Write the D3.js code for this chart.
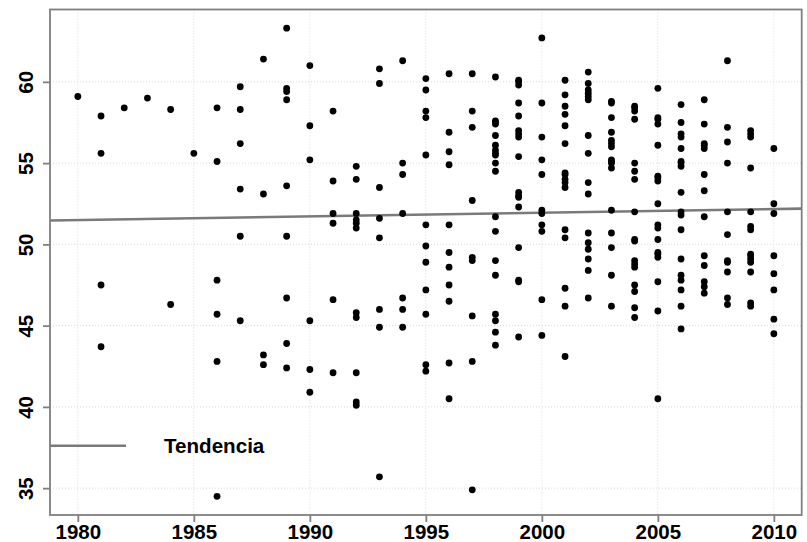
<!DOCTYPE html>
<html lang="es">
<head>
    <meta charset="UTF-8">
    <title>Tendencia</title>
    <script src="https://cdnjs.cloudflare.com/ajax/libs/d3/7.8.5/d3.min.js"></script>
    <style>
        body {
            margin: 0;
            padding: 0;
            background-color: #fff;
        }
        svg text {
            font-family: "Liberation Sans", Arial, sans-serif;
            font-weight: bold;
            fill: #000;
        }
        .grid line {
            stroke: #d9d9d9;
            stroke-width: 1px;
            stroke-dasharray: 1,2;
        }
    </style>
</head>
<body>
    <div id="chart"></div>
    <script>
        // one entry per year
        const years = [1980, 1981, 1982, 1983, 1984, 1985, 1986, 1987, 1988, 1989,
                       1990, 1991, 1992, 1993, 1994, 1995, 1996, 1997, 1998, 1999,
                       2000, 2001, 2002, 2003, 2004, 2005, 2006, 2007, 2008, 2009, 2010];
        const values = [
            [59.1],
            [57.9, 55.6, 47.5, 43.7],
            [58.4],
            [59.0],
            [58.3, 46.3],
            [55.6],
            [58.4, 55.1, 47.8, 45.7, 42.8, 34.5],
            [59.7, 58.3, 56.2, 53.4, 50.5, 45.3],
            [61.4, 53.1, 43.2, 42.6],
            [63.3, 59.6, 59.4, 58.9, 53.6, 50.5, 46.7, 43.9, 42.4],
            [61.0, 57.3, 55.2, 45.3, 42.3, 40.9],
            [58.2, 53.9, 51.9, 51.3, 46.6, 42.1],
            [54.8, 54.0, 51.9, 51.5, 51.3, 51.0, 45.8, 45.5, 42.1, 40.3, 40.1],
            [60.8, 59.9, 53.5, 51.6, 50.4, 46.0, 44.9, 35.7],
            [61.3, 55.0, 54.3, 51.9, 46.7, 46.0, 44.9],
            [60.2, 59.5, 58.2, 57.8, 55.5, 51.2, 49.9, 48.9, 47.2, 45.7, 42.6, 42.2],
            [60.5, 56.9, 55.7, 54.9, 51.2, 49.5, 48.6, 47.5, 46.5, 42.7, 40.5],
            [60.5, 58.2, 57.2, 52.7, 49.2, 49.0, 45.6, 42.8, 34.9],
            [60.3, 57.6, 57.5, 57.4, 56.7, 56.1, 55.8, 55.6, 55.5, 55.0, 54.5, 51.7, 50.8, 49.0, 48.1, 45.7, 45.3, 44.6, 43.8],
            [60.1, 60.0, 59.8, 58.7, 57.9, 57.0, 56.8, 56.6, 55.4, 53.2, 53.0, 52.9, 52.3, 49.8, 47.8, 47.7, 44.3],
            [62.7, 58.7, 56.6, 55.2, 54.3, 52.1, 51.9, 51.2, 50.8, 46.6, 44.4],
            [60.1, 59.2, 58.5, 58.0, 57.3, 56.2, 54.4, 54.3, 54.0, 53.8, 53.5, 50.9, 50.4, 47.3, 46.2, 43.1],
            [60.6, 59.9, 59.5, 59.3, 59.1, 58.9, 56.7, 55.6, 53.8, 53.1, 50.7, 50.1, 49.7, 49.1, 48.4, 46.7],
            [58.8, 58.7, 57.8, 56.9, 56.4, 56.2, 56.0, 55.2, 55.1, 55.0, 54.7, 52.1, 50.7, 49.8, 48.1, 46.2],
            [58.5, 58.4, 58.2, 57.7, 55.0, 54.5, 54.0, 52.0, 50.3, 50.2, 49.0, 48.8, 48.6, 47.5, 47.1, 46.1, 45.5],
            [59.6, 57.8, 57.7, 57.4, 56.1, 54.2, 54.1, 53.9, 52.5, 51.2, 51.0, 50.3, 49.5, 49.4, 49.2, 47.7, 45.9, 40.5],
            [58.6, 57.5, 56.8, 56.6, 55.9, 55.1, 55.0, 54.8, 53.2, 52.0, 51.8, 50.9, 49.1, 48.1, 47.8, 47.2, 46.2, 44.8],
            [58.9, 57.4, 56.2, 56.1, 55.9, 54.3, 53.3, 51.7, 49.3, 48.7, 47.7, 47.4, 47.0],
            [61.3, 57.2, 56.3, 55.0, 52.0, 50.6, 49.0, 48.9, 48.3, 46.7, 46.3],
            [57.0, 56.8, 56.6, 54.7, 52.0, 51.1, 50.9, 49.4, 49.3, 49.1, 48.9, 48.3, 46.4, 46.2],
            [55.9, 52.5, 51.9, 49.3, 48.2, 47.2, 45.4, 44.5]
        ];

        // trend line, read at both ends of the data range
        const trendYears = [1980, 2010];
        const trendValues = [51.50, 52.17];

        const xTicks = [1980, 1985, 1990, 1995, 2000, 2005, 2010];
        const yTicks = [35, 40, 45, 50, 55, 60];
        const legendLabel = "Tendencia";

        const width = 807, height = 542;
        const margin = { top: 9.5, right: 5.3, bottom: 27, left: 50 };

        const points = [];
        years.forEach((yr, i) => values[i].forEach(v => points.push({ year: yr, value: v })));

        // R style 4% padding on the data range
        const xExt = d3.extent(points, d => d.year);
        const yExt = d3.extent(points, d => d.value);
        const xPad = (xExt[1] - xExt[0]) * 0.04;
        const yPad = (yExt[1] - yExt[0]) * 0.04;

        const x = d3.scaleLinear()
            .domain([xExt[0] - xPad, xExt[1] + xPad])
            .range([margin.left, width - margin.right]);
        const y = d3.scaleLinear()
            .domain([yExt[0] - yPad, yExt[1] + yPad])
            .range([height - margin.bottom, margin.top]);

        const svg = d3.select("#chart").append("svg")
            .attr("width", width)
            .attr("height", height);

        // dotted grid
        const grid = svg.append("g").attr("class", "grid");
        grid.selectAll(".gx").data(xTicks).enter().append("line")
            .attr("x1", d => x(d)).attr("x2", d => x(d))
            .attr("y1", y.range()[1]).attr("y2", y.range()[0]);
        grid.selectAll(".gy").data(yTicks).enter().append("line")
            .attr("x1", x.range()[0]).attr("x2", x.range()[1])
            .attr("y1", d => y(d)).attr("y2", d => y(d));

        // trend line, clipped to the plot box
        svg.append("clipPath").attr("id", "plotclip").append("rect")
            .attr("x", x.range()[0]).attr("y", y.range()[1])
            .attr("width", x.range()[1] - x.range()[0])
            .attr("height", y.range()[0] - y.range()[1]);

        const slope = (trendValues[1] - trendValues[0]) / (trendYears[1] - trendYears[0]);
        const trendAt = yr => trendValues[0] + (yr - trendYears[0]) * slope;
        const xd = x.domain();
        svg.append("line")
            .attr("clip-path", "url(#plotclip)")
            .attr("x1", x(xd[0])).attr("y1", y(trendAt(xd[0])))
            .attr("x2", x(xd[1])).attr("y2", y(trendAt(xd[1])))
            .attr("stroke", "#7a7a7a")
            .attr("stroke-width", 2.6);

        // points
        svg.append("g").selectAll("circle")
            .data(points).enter().append("circle")
            .attr("cx", d => x(d.year))
            .attr("cy", d => y(d.value))
            .attr("r", 3.4)
            .attr("fill", "#000");

        // axes
        const xAxis = svg.append("g")
            .attr("transform", `translate(0,${y.range()[0]})`)
            .call(d3.axisBottom(x).tickValues(xTicks).tickFormat(d3.format("d")).tickSize(7).tickPadding(2));
        const yAxis = svg.append("g")
            .attr("transform", `translate(${x.range()[0]},0)`)
            .call(d3.axisLeft(y).tickValues(yTicks).tickSize(7).tickPadding(2));

        [xAxis, yAxis].forEach(g => {
            g.select(".domain").remove();
            g.selectAll(".tick line").attr("stroke", "#7f7f7f").attr("stroke-width", 1.8);
            g.selectAll(".tick text").style("font-size", "20.5px");
        });
        yAxis.selectAll(".tick text")
            .attr("x", null).attr("dy", null)
            .attr("text-anchor", "middle")
            .attr("transform", "translate(-17,0) rotate(-90)");

        // box round the plot
        svg.append("rect")
            .attr("x", x.range()[0]).attr("y", y.range()[1])
            .attr("width", x.range()[1] - x.range()[0])
            .attr("height", y.range()[0] - y.range()[1])
            .attr("fill", "none")
            .attr("stroke", "#7f7f7f")
            .attr("stroke-width", 1.8);

        // legend
        svg.append("line")
            .attr("x1", x.range()[0]).attr("x2", 126)
            .attr("y1", 445.7).attr("y2", 445.7)
            .attr("stroke", "#7a7a7a")
            .attr("stroke-width", 2.6);
        svg.append("text")
            .attr("x", 164).attr("y", 453)
            .style("font-size", "20.6px")
            .text(legendLabel);
    </script>
</body>
</html>
